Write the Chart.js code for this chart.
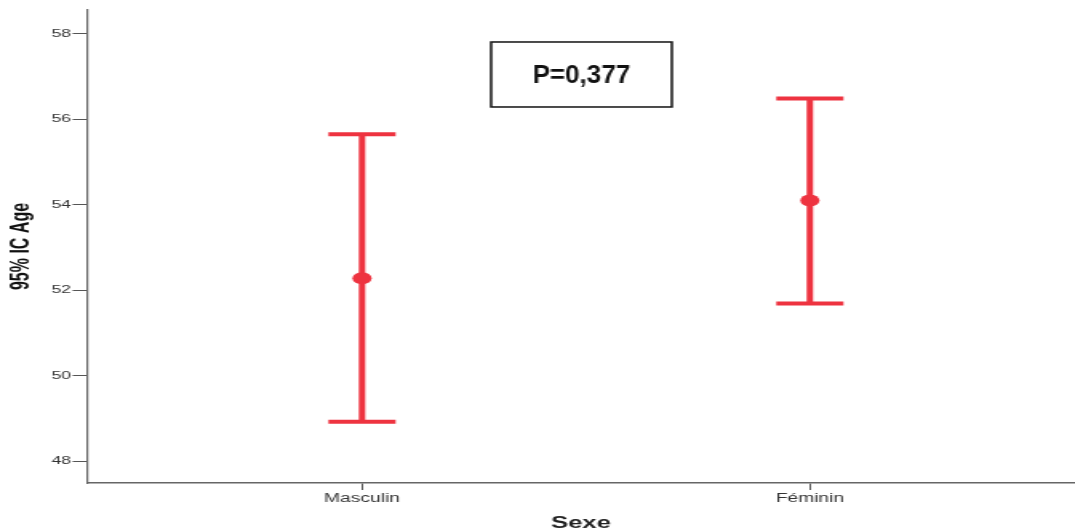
<!DOCTYPE html>
<html>
<head>
<meta charset="utf-8">
<script src="https://cdn.jsdelivr.net/npm/chart.js@4.4.1/dist/chart.umd.min.js"></script>
<style>
  body { margin: 0; background: #fff; }
  #errChart { display: block; }
</style>
</head>
<body>
<canvas id="errChart" width="672" height="531" style="width:1075px;height:531px"></canvas>
<script>
// donnees (IC 95% de l'age par sexe)
const sexes = ["Masculin", "Féminin"];
const moyennes = [52.28, 54.10];
const icBas = [48.92, 51.69];
const icHaut = [55.65, 56.49];
const yTicks = [48, 50, 52, 54, 56, 58];
const pValeur = "P=0,377";

const rouge = "#ee3340";
const etirement = 1075 / 672; // le canvas est etire en largeur comme l'original

// barres d'erreur dessinees avec les echelles du graphique
const barresErreur = {
  id: "barresErreur",
  beforeDatasetsDraw(chart) {
    const ctx = chart.ctx;
    const xs = chart.scales.x;
    const ys = chart.scales.y;
    ctx.save();
    ctx.strokeStyle = rouge;
    ctx.lineWidth = 4;
    sexes.forEach((s, i) => {
      const x = xs.getPixelForValue(i + 1);
      const yH = ys.getPixelForValue(icHaut[i]);
      const yB = ys.getPixelForValue(icBas[i]);
      ctx.beginPath();
      ctx.moveTo(x, yH);
      ctx.lineTo(x, yB);
      ctx.moveTo(x - 21, yH);
      ctx.lineTo(x + 21, yH);
      ctx.moveTo(x - 21, yB);
      ctx.lineTo(x + 21, yB);
      ctx.stroke();
    });
    ctx.restore();
  }
};

// cadre avec la valeur p
const cadreP = {
  id: "cadreP",
  afterDraw(chart) {
    const ctx = chart.ctx;
    const cx = chart.scales.x.getPixelForValue(1.49);
    const cy = chart.scales.y.getPixelForValue(57.05);
    const w = 113, h = 65;
    ctx.save();
    ctx.fillStyle = "#fff";
    ctx.fillRect(cx - w / 2, cy - h / 2, w, h);
    ctx.strokeStyle = "#111";
    ctx.lineWidth = 1.5;
    ctx.strokeRect(cx - w / 2, cy - h / 2, w, h);
    ctx.translate(cx, cy);
    ctx.scale(1 / etirement, 1);
    ctx.fillStyle = "#111";
    ctx.font = "bold 26px 'Liberation Sans', Arial, sans-serif";
    ctx.textAlign = "center";
    ctx.textBaseline = "middle";
    ctx.fillText(pValeur, 0, 1);
    ctx.restore();
  }
};

const data = {
  datasets: [{
    label: "Age",
    data: sexes.map((s, i) => ({ x: i + 1, y: moyennes[i] })),
    backgroundColor: rouge,
    borderWidth: 0,
    pointRadius: 6,
    showLine: false,
  }, ],
};

const config = {
  type: "scatter",
  data: data,
  options: {
    responsive: false,
    animation: false,
    layout: { autoPadding: false, padding: { top: 10, right: 0, left: 0, bottom: 0 } },
    plugins: {
      legend: { display: false },
      tooltip: { enabled: false },
    },
    scales: {
      x: {
        type: "linear",
        min: 0.386,
        max: 2.592,
        afterBuildTicks: (scale) => {
          scale.ticks = sexes.map((s, i) => ({ value: i + 1 }));
        },
        afterFit: (scale) => { scale.height = 48; },
        grid: {
          drawOnChartArea: false,
          tickLength: 7,
          color: "#555",
        },
        border: { color: "#666", width: 1.5 },
        ticks: {
          autoSkip: false,
          maxRotation: 0,
          padding: 1,
          color: "#333",
          font: { family: "'Liberation Sans', Arial, sans-serif", size: 12 },
          callback: (v) => sexes[v - 1],
        },
        title: {
          display: true,
          text: "Sexe",
          color: "#222",
          padding: { top: 0, bottom: 0 },
          font: { family: "'Liberation Sans', Arial, sans-serif", size: 16, weight: "bold", lineHeight: 0.9 },
        },
      },
      y: {
        min: 47.485,
        max: 58.56,
        afterBuildTicks: (scale) => {
          scale.ticks = yTicks.map((v) => ({ value: v }));
        },
        afterFit: (scale) => { scale.width = 54.4; },
        grid: {
          drawOnChartArea: false,
          tickLength: 9,
          color: "#555",
        },
        border: { color: "#666", width: 1.2 },
        ticks: {
          padding: 1,
          color: "#333",
          font: { family: "'Liberation Sans', Arial, sans-serif", size: 11 },
        },
        title: {
          display: true,
          text: "95% IC Age",
          color: "#111",
          padding: { top: 4, bottom: 0 },
          font: { family: "'Liberation Sans', Arial, sans-serif", size: 16, weight: "bold" },
        },
      },
    },
  },
  plugins: [barresErreur, cadreP],
};

const errChart = new Chart(document.getElementById("errChart"), config);
</script>
</body>
</html>
